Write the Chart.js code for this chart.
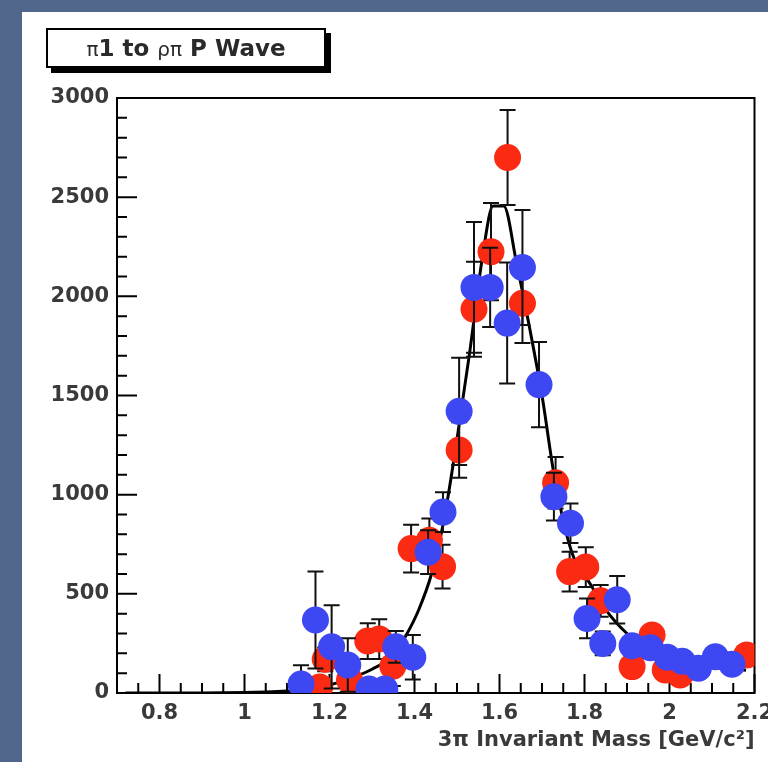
<!DOCTYPE html>
<html>
<head>
<meta charset="utf-8">
<script src="https://cdn.jsdelivr.net/npm/chart.js@4/dist/chart.umd.min.js"></script>
<style>
  html, body { margin: 0; padding: 0; }
  body { width: 768px; height: 762px; background: #50668a; position: relative; overflow: hidden; }
  #panel { position: absolute; left: 22px; top: 12px; right: 0; bottom: 0; background: #fff; }
  #graph { position: absolute; left: 0; top: 0; }
  #title {
    position: absolute; left: 46px; top: 28px; width: 276px; height: 36px;
    border: 2px solid #000; background: #fff; box-shadow: 5px 5px 0 #000;
    font: bold 23px "DejaVu Sans", sans-serif; color: #2a2a2a;
    text-align: center; line-height: 36px;
  }
  #title .sym { font-weight: normal; font-size: 20px; }
</style>
</head>
<body>
<div id="panel"></div>
<canvas id="graph" width="768" height="762"></canvas>
<div id="title"><span class="sym">π</span>1 to <span class="sym">ρπ</span> P Wave</div>
<script>
// tick labels
const xTicks = [0.8, 1, 1.2, 1.4, 1.6, 1.8, 2, 2.2];
const yTicks = [0, 500, 1000, 1500, 2000, 2500, 3000];

// red points (mass, events, error)
const redX = [1.177, 1.19, 1.247, 1.29, 1.317, 1.349, 1.392, 1.435, 1.466, 1.505, 1.54, 1.58, 1.619, 1.654, 1.732, 1.765, 1.803, 1.838, 1.912, 1.959, 1.99, 2.025, 2.182];
const redY = [30, 170, 65, 262, 272, 135, 728, 770, 637, 1225, 1935, 2225, 2700, 1965, 1060, 612, 635, 465, 133, 292, 116, 91, 192];
const redErr = [40, 60, 60, 90, 100, 100, 120, 110, 110, 140, 240, 245, 240, 200, 130, 100, 100, 80, 40, 50, 40, 40, 40];

// blue points
const blueX = [1.133, 1.167, 1.205, 1.243, 1.293, 1.33, 1.356, 1.396, 1.432, 1.467, 1.505, 1.54, 1.578, 1.618, 1.654, 1.693, 1.728, 1.767, 1.806, 1.843, 1.877, 1.912, 1.955, 1.995, 2.03, 2.068, 2.108, 2.147];
const blueY = [45, 368, 233, 141, 20, 20, 233, 180, 710, 912, 1420, 2045, 2045, 1865, 2145, 1555, 990, 856, 376, 250, 470, 238, 228, 180, 160, 125, 183, 145];
const blueErr = [95, 245, 210, 135, 30, 30, 80, 112, 110, 100, 270, 330, 200, 305, 290, 215, 120, 100, 100, 60, 120, 50, 50, 40, 40, 40, 40, 40];

// fit curve
const fitX = [0.72, 0.8, 0.9, 1.0, 1.05, 1.1, 1.15, 1.2, 1.25, 1.3, 1.35, 1.38, 1.41, 1.44, 1.47, 1.5, 1.53, 1.56, 1.585, 1.61, 1.64, 1.67, 1.7, 1.73, 1.77, 1.815, 1.85, 1.9, 1.95, 2.0, 2.05, 2.1, 2.15, 2.18];
const fitY = [0, 0, 0, 2, 5, 10, 18, 40, 75, 120, 190, 290, 420, 600, 880, 1280, 1720, 2200, 2455, 2455, 2170, 1850, 1500, 1080, 710, 545, 420, 300, 230, 180, 150, 130, 120, 115];

const pts = (xs, ys) => xs.map((x, i) => ({x: x, y: ys[i]}));

// error bars drawn right before each dataset's markers
const errorBars = {
    id: 'errorBars',
    beforeDatasetDraw(chart, args) {
        const ds = chart.data.datasets[args.index];
        if (!ds.errors) return;
        const {ctx, scales: {x, y}} = chart;
        ctx.save();
        ctx.strokeStyle = '#111';
        ctx.lineWidth = 2;
        ds.data.forEach((p, i) => {
            const px = x.getPixelForValue(p.x);
            const top = y.getPixelForValue(Math.min(p.y + ds.errors[i], 3000));
            const bot = y.getPixelForValue(Math.max(p.y - ds.errors[i], 0));
            ctx.beginPath();
            ctx.moveTo(px, top); ctx.lineTo(px, bot);
            ctx.moveTo(px - 8, top); ctx.lineTo(px + 8, top);
            if (p.y - ds.errors[i] > 0) { ctx.moveTo(px - 8, bot); ctx.lineTo(px + 8, bot); }
            ctx.stroke();
        });
        ctx.restore();
    }
};

// ROOT style frame with inward ticks
const frame = {
    id: 'frame',
    beforeDatasetsDraw(chart) {
        const {ctx, chartArea: a, scales: {x, y}} = chart;
        ctx.save();
        ctx.strokeStyle = '#000';
        ctx.lineWidth = 2;
        ctx.strokeRect(a.left, a.top, a.right - a.left, a.bottom - a.top);
        ctx.beginPath();
        for (let v = 0.75; v <= 2.2001; v += 0.05) {
            const px = x.getPixelForValue(v);
            const major = xTicks.some(t => Math.abs(t - v) < 1e-6);
            ctx.moveTo(px, a.bottom); ctx.lineTo(px, a.bottom - (major ? 19 : 10));
        }
        for (let v = 100; v < 3000; v += 100) {
            const py = y.getPixelForValue(v);
            const major = yTicks.includes(v);
            ctx.moveTo(a.left, py); ctx.lineTo(a.left + (major ? 20 : 10), py);
        }
        ctx.stroke();
        ctx.restore();
    }
};

const labelFont = { family: 'DejaVu Sans', size: 21, weight: 'bold' };

const ctx = document.getElementById('graph').getContext('2d');
const chart = new Chart(ctx, {
    type: 'scatter',
    data: {
        datasets: [{
            label: 'fit',
            data: pts(fitX, fitY),
            showLine: true,
            borderColor: '#000',
            borderWidth: 3,
            pointRadius: 0,
            cubicInterpolationMode: 'monotone',
            order: 3
        }, {
            label: 'red',
            data: pts(redX, redY),
            errors: redErr,
            backgroundColor: '#fb2a12',
            borderWidth: 0,
            pointRadius: 13.5,
            order: 2
        }, {
            label: 'blue',
            data: pts(blueX, blueY),
            errors: blueErr,
            backgroundColor: '#3d47f2',
            borderWidth: 0,
            pointRadius: 13.5,
            order: 1
        }]
    },
    options: {
        responsive: false,
        animation: false,
        devicePixelRatio: 1,
        layout: { padding: { left: 0, top: 98, right: 11, bottom: 0 } },
        plugins: { legend: { display: false }, tooltip: { enabled: false } },
        scales: {
            x: {
                type: 'linear', min: 0.7, max: 2.2,
                afterBuildTicks: s => { s.ticks = xTicks.map(v => ({value: v})); },
                afterFit: s => { s.height = 69; s.paddingLeft = 0; s.paddingRight = 0; },
                grid: { display: false, drawTicks: false },
                border: { display: false },
                ticks: {
                    padding: 8, color: '#3a3a3a', maxRotation: 0, autoSkip: false,
                    font: labelFont,
                    callback: v => String(+v.toFixed(1))
                },
                title: {
                    display: true, text: '3π Invariant Mass [GeV/c²]', align: 'end',
                    color: '#3a3a3a', padding: { top: 0, bottom: 9 },
                    font: labelFont
                }
            },
            y: {
                type: 'linear', min: 0, max: 3000,
                afterBuildTicks: s => { s.ticks = yTicks.map(v => ({value: v})); },
                afterFit: s => { s.width = 117; s.paddingTop = 0; s.paddingBottom = 0; },
                grid: { display: false, drawTicks: false },
                border: { display: false },
                ticks: {
                    padding: 8, color: '#3a3a3a',
                    font: labelFont,
                    callback: v => String(v)
                }
            }
        }
    },
    plugins: [frame, errorBars]
});
</script>
</body>
</html>
